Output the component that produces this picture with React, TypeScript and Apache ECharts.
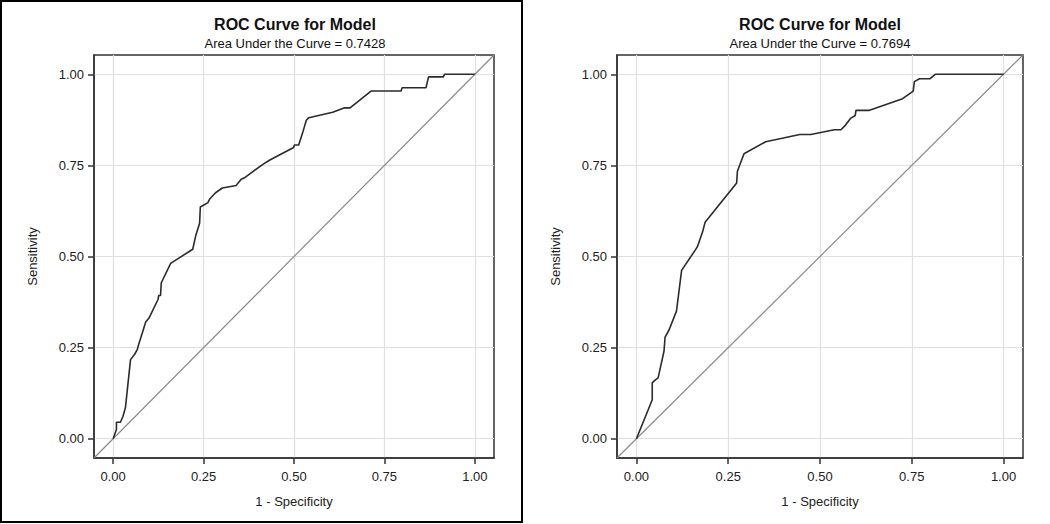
import React, { useEffect, useRef } from "react";
import * as echarts from "echarts";

const tickValues = [0, 0.25, 0.5, 0.75, 1];
const axisMin = -0.053;
const axisMax = 1.053;

const chartTitle = "ROC Curve for Model";
const leftSubtitle = "Area Under the Curve = 0.7428";
const rightSubtitle = "Area Under the Curve = 0.7694";
const xAxisName = "1 - Specificity";
const yAxisName = "Sensitivity";

const leftFpr = [0, 0.009, 0.009, 0.02, 0.027, 0.034, 0.048, 0.059, 0.067, 0.069, 0.09, 0.099, 0.124, 0.126, 0.131, 0.133, 0.159, 0.22, 0.228, 0.239, 0.241, 0.262, 0.267, 0.283, 0.302, 0.34, 0.354, 0.363, 0.414, 0.432, 0.499, 0.501, 0.513, 0.524, 0.534, 0.541, 0.607, 0.64, 0.655, 0.713, 0.796, 0.799, 0.865, 0.872, 0.913, 0.916, 1.0];
const leftTpr = [0, 0.025, 0.045, 0.045, 0.061, 0.086, 0.217, 0.231, 0.245, 0.254, 0.32, 0.331, 0.382, 0.393, 0.393, 0.428, 0.481, 0.52, 0.556, 0.591, 0.636, 0.648, 0.658, 0.675, 0.688, 0.695, 0.712, 0.716, 0.753, 0.764, 0.799, 0.806, 0.806, 0.84, 0.874, 0.881, 0.896, 0.908, 0.908, 0.954, 0.954, 0.963, 0.963, 0.993, 0.993, 1.0, 1.0];

const rightFpr = [0, 0.043, 0.043, 0.05, 0.059, 0.075, 0.078, 0.089, 0.109, 0.123, 0.161, 0.166, 0.18, 0.187, 0.273, 0.275, 0.293, 0.352, 0.445, 0.475, 0.539, 0.557, 0.569, 0.583, 0.596, 0.598, 0.633, 0.725, 0.754, 0.757, 0.771, 0.8, 0.814, 1.0];
const rightTpr = [0, 0.107, 0.153, 0.16, 0.167, 0.24, 0.279, 0.299, 0.35, 0.462, 0.519, 0.527, 0.567, 0.594, 0.702, 0.734, 0.782, 0.815, 0.835, 0.835, 0.848, 0.848, 0.86, 0.879, 0.887, 0.901, 0.901, 0.933, 0.954, 0.98, 0.988, 0.988, 1.0, 1.0];

const diagonal = [axisMin, axisMax];

const FONT = "'Liberation Sans', Arial, sans-serif";

function zip(xs: number[], ys: number[]) {
  return xs.map((x, i) => [x, ys[i]]);
}

function makeXAxis(gridIndex: number) {
  return {
    type: "value",
    gridIndex,
    min: axisMin,
    max: axisMax,
    name: xAxisName,
    nameLocation: "middle",
    nameGap: 37,
    nameTextStyle: { fontFamily: FONT, fontSize: 13, color: "#222" },
    axisLine: { show: true, onZero: false, lineStyle: { color: "#333", width: 1.5 } },
    axisTick: { show: true, length: 6, customValues: tickValues, lineStyle: { color: "#333", width: 1.5 } },
    axisLabel: {
      show: true,
      customValues: tickValues,
      margin: 12,
      fontFamily: FONT,
      fontSize: 13,
      color: "#222",
      formatter: (v: number) => v.toFixed(2),
    },
    splitLine: { show: true, lineStyle: { color: "#e0e0e0", width: 1.2 } },
  };
}

function makeYAxis(gridIndex: number) {
  return {
    type: "value",
    gridIndex,
    min: axisMin,
    max: axisMax,
    name: yAxisName,
    nameLocation: "middle",
    nameGap: 55,
    nameRotate: 90,
    nameTextStyle: { fontFamily: FONT, fontSize: 13, color: "#222" },
    axisLine: { show: true, onZero: false, lineStyle: { color: "#333", width: 1.5 } },
    axisTick: { show: true, length: 6, customValues: tickValues, lineStyle: { color: "#333", width: 1.5 } },
    axisLabel: {
      show: true,
      customValues: tickValues,
      margin: 10,
      fontFamily: FONT,
      fontSize: 13,
      color: "#222",
      formatter: (v: number) => v.toFixed(2),
    },
    splitLine: { show: true, lineStyle: { color: "#e0e0e0", width: 1.2 } },
  };
}

function curveSeries(idx: number, data: number[][]) {
  return {
    type: "line",
    xAxisIndex: idx,
    yAxisIndex: idx,
    data,
    showSymbol: false,
    symbol: "none",
    lineStyle: { color: "#2b2b2b", width: 1.6 },
    z: 3,
  };
}

function diagSeries(idx: number) {
  return {
    type: "line",
    xAxisIndex: idx,
    yAxisIndex: idx,
    data: zip(diagonal, diagonal),
    showSymbol: false,
    symbol: "none",
    lineStyle: { color: "#8a8a8a", width: 1.2 },
    z: 2,
  };
}

function titleTexts(cx: number, sub: string) {
  return [
    {
      type: "text",
      x: cx,
      y: 24,
      style: {
        text: chartTitle,
        fontFamily: FONT,
        fontSize: 16,
        fontWeight: "bold",
        fill: "#111",
        textAlign: "center",
        textVerticalAlign: "middle",
      },
    },
    {
      type: "text",
      x: cx,
      y: 43,
      style: {
        text: sub,
        fontFamily: FONT,
        fontSize: 13,
        fill: "#111",
        textAlign: "center",
        textVerticalAlign: "middle",
      },
    },
  ];
}

export default function App() {
  const ref = useRef<HTMLDivElement>(null);
  useEffect(() => {
    document.body.style.margin = "0";
    if (!ref.current) return;
    const chart = echarts.init(ref.current, undefined, { renderer: "svg" });
    const option: any = {
      animation: false,
      backgroundColor: "#fff",
      grid: [
        { left: 94, top: 55, width: 400, height: 403, show: true, borderColor: "#333", borderWidth: 1.5, backgroundColor: "transparent" },
        { left: 617, top: 55, width: 406, height: 403, show: true, borderColor: "#333", borderWidth: 1.5, backgroundColor: "transparent" },
      ],
      xAxis: [makeXAxis(0), makeXAxis(1)],
      yAxis: [makeYAxis(0), makeYAxis(1)],
      series: [
        diagSeries(0),
        curveSeries(0, zip(leftFpr, leftTpr)),
        diagSeries(1),
        curveSeries(1, zip(rightFpr, rightTpr)),
      ],
      graphic: [
        {
          type: "rect",
          shape: { x: 1, y: 1, width: 521, height: 521 },
          style: { fill: "none", stroke: "#000", lineWidth: 2 },
          silent: true,
        },
        ...titleTexts(295, leftSubtitle),
        ...titleTexts(820, rightSubtitle),
      ],
    };
    chart.setOption(option);
    return () => chart.dispose();
  }, []);
  return <div ref={ref} style={{ width: 1050, height: 524 }} />;
}
